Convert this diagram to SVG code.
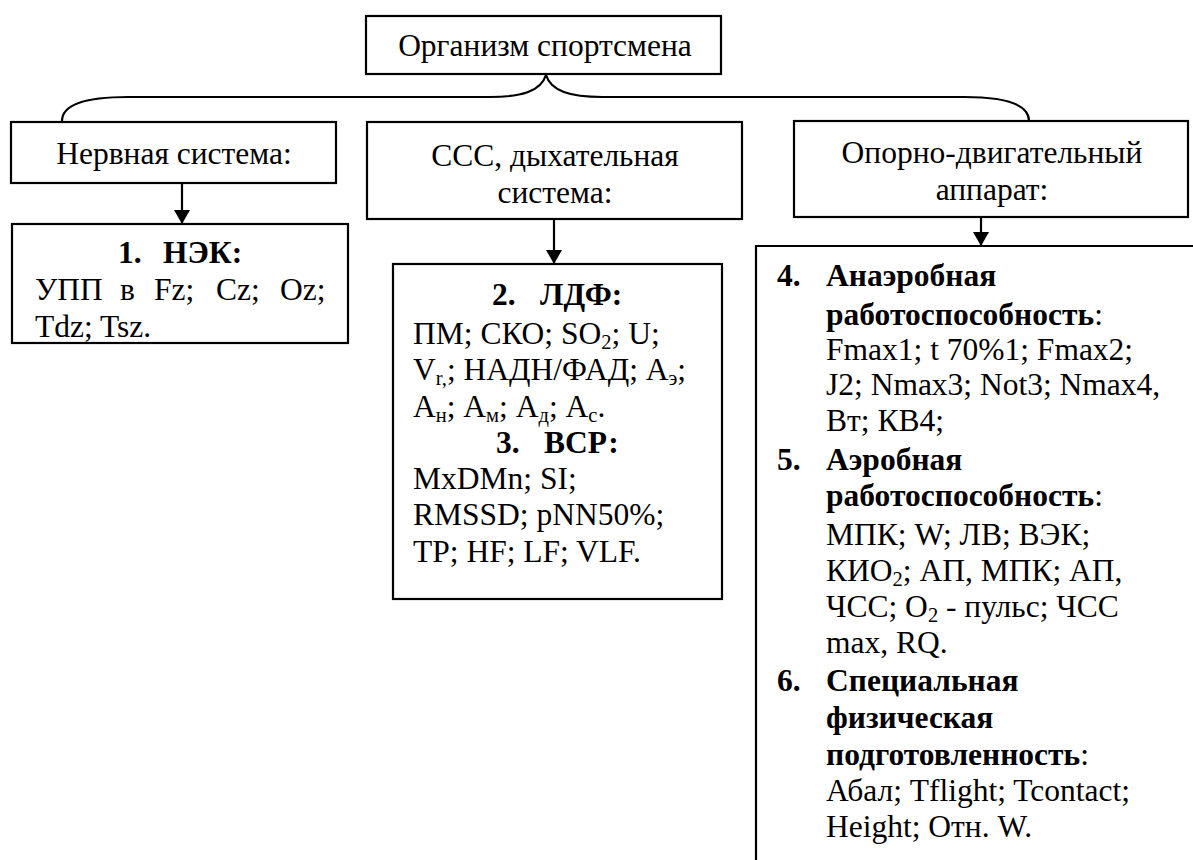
<svg xmlns="http://www.w3.org/2000/svg" width="1193" height="860" viewBox="0 0 1193 860" font-family="'Liberation Serif', 'DejaVu Serif', serif">
<defs>
<style>
.box{fill:#fff;stroke:#000;stroke-width:2.2}
.ln{fill:none;stroke:#000;stroke-width:2.2}
text{font-family:'Liberation Serif','DejaVu Serif',serif;font-size:31.5px;fill:#000}
.b{font-weight:bold}
.c{text-anchor:middle}
.s{font-size:20.5px}
</style>
<marker id="ah" viewBox="0 0 14 16" refX="14" refY="8" markerWidth="14" markerHeight="16" markerUnits="userSpaceOnUse" orient="auto">
<path d="M0,0 L14,8 L0,16 Z" fill="#000"/>
</marker>
</defs>
<rect width="1193" height="860" fill="#fff"/>

<g id="connectors">
<path class="ln" d="M546,75 C541,91 522,97 490,97 L128,97 C86,97 62,104 62,121"/>
<path class="ln" d="M546,75 C551,91 570,97 602,97 L964,97 C1006,97 1029,104 1029,121"/>
<line class="ln" x1="182" y1="183" x2="182" y2="224" marker-end="url(#ah)"/>
<line class="ln" x1="554" y1="220" x2="554" y2="264" marker-end="url(#ah)"/>
<line class="ln" x1="981" y1="217" x2="981" y2="246" marker-end="url(#ah)"/>
</g>

<g id="root">
<rect class="box" x="366" y="16" width="355" height="58"/>
<text class="c" x="545" y="56">Организм спортсмена</text>
</g>

<g id="nervous">
<rect class="box" x="11" y="122" width="325" height="61"/>
<text class="c" x="174" y="164">Нервная система:</text>
</g>

<g id="ccc">
<rect class="box" x="367" y="122" width="375" height="97"/>
<text class="c" x="555" y="166">ССС, дыхательная</text>
<text class="c" x="555" y="203">система:</text>
</g>

<g id="musculo">
<rect class="box" x="794" y="121" width="394" height="96"/>
<text class="c" x="992" y="163">Опорно-двигательный</text>
<text class="c" x="992" y="200">аппарат:</text>
</g>

<g id="nek">
<rect class="box" x="12" y="224" width="336" height="119"/>
<text class="b" x="118" y="263">1.</text>
<text class="b" x="163" y="263">НЭК:</text>
<text x="35" y="300">УПП</text>
<text x="120" y="300">в</text>
<text x="154" y="300">Fz;</text>
<text x="216" y="300">Cz;</text>
<text x="280" y="300">Oz;</text>
<text x="35" y="337">Tdz; Tsz.</text>
</g>

<g id="ldf">
<rect class="box" x="393" y="264" width="329" height="335"/>
<text class="b" x="492" y="305">2.</text>
<text class="b" x="540" y="305">ЛДФ:</text>
<text x="413" y="344">ПМ; СКО; SO<tspan class="s" dy="5">2</tspan><tspan dy="-5">; U;</tspan></text>
<text x="413" y="380">V<tspan class="s" dy="5">r,</tspan><tspan dy="-5">; НАДН/ФАД; А</tspan><tspan class="s" dy="5">э</tspan><tspan dy="-5">;</tspan></text>
<text x="413" y="417">А<tspan class="s" dy="5">н</tspan><tspan dy="-5">; А</tspan><tspan class="s" dy="5">м</tspan><tspan dy="-5">; А</tspan><tspan class="s" dy="5">д</tspan><tspan dy="-5">; А</tspan><tspan class="s" dy="5">с</tspan><tspan dy="-5">.</tspan></text>
<text class="b" x="496" y="453">3.</text>
<text class="b" x="544" y="453">ВСР:</text>
<text x="413" y="489">MxDMn; SI;</text>
<text x="413" y="525">RMSSD; pNN50%;</text>
<text x="413" y="562">TP; HF; LF; VLF.</text>
</g>

<g id="work">
<path class="ln" d="M1195,246 H756 V862"/>
<text class="b" x="777" y="286">4.</text>
<text class="b" x="826" y="286">Анаэробная</text>
<text x="826" y="325"><tspan class="b">работоспособность</tspan>:</text>
<text x="826" y="360">Fmax1; t 70%1; Fmax2;</text>
<text x="826" y="395">J2; Nmax3; Not3; Nmax4,</text>
<text x="826" y="431">Вт; КВ4;</text>
<text class="b" x="777" y="470">5.</text>
<text class="b" x="826" y="470">Аэробная</text>
<text x="826" y="506"><tspan class="b">работоспособность</tspan>:</text>
<text x="826" y="545">МПК; W; ЛВ; ВЭК;</text>
<text x="826" y="581">КИО<tspan class="s" dy="5">2</tspan><tspan dy="-5">; АП, МПК; АП,</tspan></text>
<text x="826" y="617">ЧСС; O<tspan class="s" dy="5">2</tspan><tspan dy="-5"> - пульс; ЧСС</tspan></text>
<text x="826" y="653">max, RQ.</text>
<text class="b" x="777" y="691">6.</text>
<text class="b" x="826" y="691">Специальная</text>
<text class="b" x="826" y="728">физическая</text>
<text x="826" y="765"><tspan class="b">подготовленность</tspan>:</text>
<text x="826" y="801">Абал; Tflight; Tcontact;</text>
<text x="826" y="837">Height; Отн. W.</text>
</g>
</svg>
